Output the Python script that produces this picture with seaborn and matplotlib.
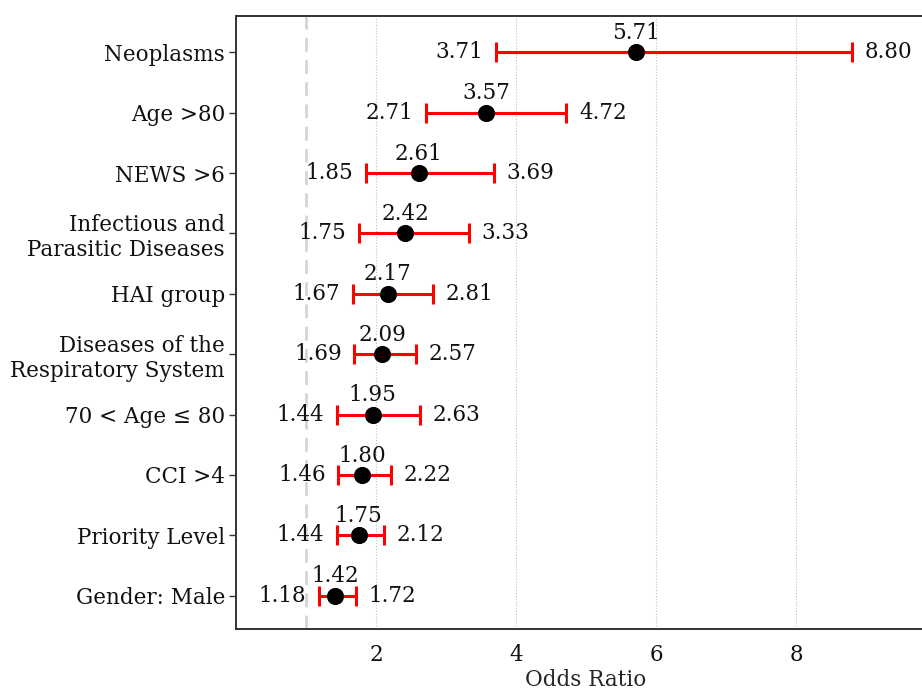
import pandas as pd
import matplotlib.pyplot as plt
import seaborn as sns

# Odds ratios and 95% CI
labels = [
    "Neoplasms", "Age >80", "NEWS >6", "Infectious and\nParasitic Diseases",
    "HAI group", "Diseases of the\nRespiratory System", "70 < Age ≤ 80",
    "CCI >4", "Priority Level", "Gender: Male",
]
odds = [5.71, 3.57, 2.61, 2.42, 2.17, 2.09, 1.95, 1.80, 1.75, 1.42]
lower = [3.71, 2.71, 1.85, 1.75, 1.67, 1.69, 1.44, 1.46, 1.44, 1.18]
upper = [8.80, 4.72, 3.69, 3.33, 2.81, 2.57, 2.63, 2.22, 2.12, 1.72]

df = pd.DataFrame({"label": labels, "OR": odds, "lo": lower, "hi": upper})
df["pos"] = range(len(df) - 1, -1, -1)

sns.set_style("white")
plt.rcParams["font.family"] = ["DejaVu Serif"]
plt.rcParams["text.color"] = "#111111"
plt.rcParams["xtick.color"] = "#111111"
plt.rcParams["ytick.color"] = "#111111"
fs = 15.5

fig = plt.figure(figsize=(9.22, 6.92), dpi=100)
ax = fig.add_axes([236 / 922, 1 - 629 / 692, 700 / 922, 613 / 692])

# grid + reference line
for v in [2, 4, 6, 8]:
    ax.axvline(v, color="#c0c0c0", lw=0.8, ls=":", zorder=0)
ax.axvline(1, color="#d5d5d5", lw=2, ls=(0, (5, 3)), zorder=0)

ax.errorbar(df["OR"], df["pos"],
            xerr=[df["OR"] - df["lo"], df["hi"] - df["OR"]],
            fmt="none", ecolor="red", elinewidth=2.2, capsize=7, capthick=2.2, zorder=2)
sns.scatterplot(data=df, x="OR", y="pos", color="black", s=130, zorder=3, ax=ax,
                edgecolor="black", legend=False)

for _, r in df.iterrows():
    ax.annotate(f"{r.OR:.2f}", (r.OR, r.pos), xytext=(0, 6), textcoords="offset points",
                ha="center", va="bottom", fontsize=fs)
    ax.annotate(f"{r.lo:.2f}", (r.lo, r.pos), xytext=(-9, 0), textcoords="offset points",
                ha="right", va="center", fontsize=fs)
    ax.annotate(f"{r.hi:.2f}", (r.hi, r.pos), xytext=(9, 0), textcoords="offset points",
                ha="left", va="center", fontsize=fs)

ax.set_yticks(df["pos"])
ax.set_yticklabels(df["label"], fontsize=fs, multialignment="right")
ax.set_xticks([2, 4, 6, 8])
ax.set_xlim(0, 10)
ax.set_ylim(-0.55, 9.6)
ax.tick_params(axis="y", left=True, length=5, width=1, color="#333333", pad=3)
ax.tick_params(axis="x", bottom=False, length=0, pad=11, labelsize=fs)
ax.set_xlabel("Odds Ratio", fontsize=fs, labelpad=2)
ax.set_ylabel("")
for s in ["left", "top", "bottom", "right"]:
    ax.spines[s].set_color("#333333")
    ax.spines[s].set_linewidth(1.4)

fig.savefig("out.png", dpi=100)
